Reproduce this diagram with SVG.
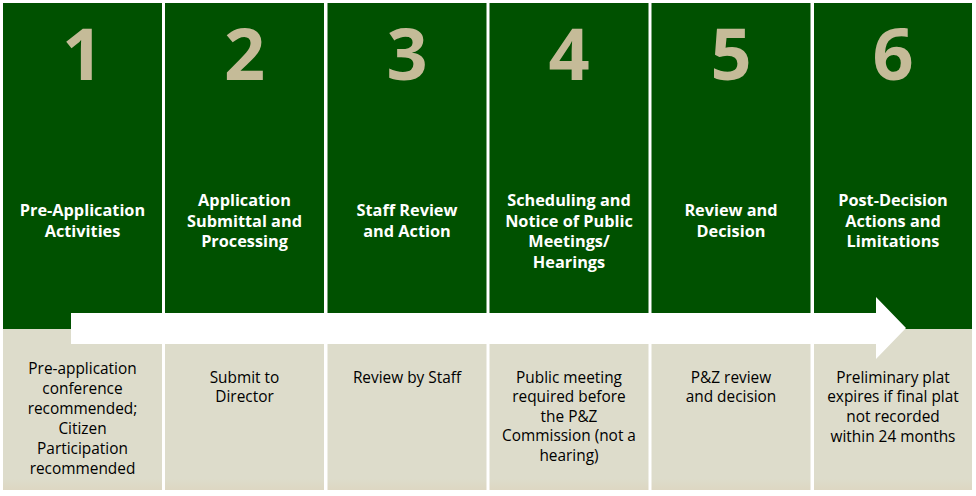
<svg xmlns="http://www.w3.org/2000/svg" width="976" height="496" viewBox="0 0 976 496">
<defs>
<linearGradient id="bg" x1="0" y1="0" x2="0" y2="1">
<stop offset="0" stop-color="#DDDCCB"/>
<stop offset="0.93" stop-color="#DDDCCB"/>
<stop offset="1" stop-color="#DDD7C2"/>
</linearGradient>
<style>
.top{fill:#005100}
.bot{fill:url(#bg)}
.num{font-family:"Open Sans","DejaVu Sans",sans-serif;font-size:72px;font-weight:700;fill:#C5BB98;text-anchor:middle}
.hd{font-family:"Open Sans","DejaVu Sans",sans-serif;font-size:16.3px;font-weight:700;fill:#FFFFFF;text-anchor:middle}
.bd{font-family:"Open Sans","DejaVu Sans",sans-serif;font-size:15.4px;fill:#000000;text-anchor:middle}
</style>
</defs>
<rect width="976" height="496" fill="#FFFFFF"/>
<g id="step1">
<rect class="top" x="3" y="3" width="159" height="326"/>
<rect class="bot" x="3" y="329" width="159" height="161"/>
<text class="num" x="82.5" y="80">1</text>
<text class="hd" x="82.5" y="216">Pre-Application</text>
<text class="hd" x="82.5" y="237">Activities</text>
<text class="bd" x="82.5" y="374">Pre-application</text>
<text class="bd" x="82.5" y="394">conference</text>
<text class="bd" x="82.5" y="414">recommended;</text>
<text class="bd" x="82.5" y="434">Citizen</text>
<text class="bd" x="82.5" y="454">Participation</text>
<text class="bd" x="82.5" y="474">recommended</text>
</g>
<g id="step2">
<rect class="top" x="165" y="3" width="159" height="326"/>
<rect class="bot" x="165" y="329" width="159" height="161"/>
<text class="num" x="244.5" y="80">2</text>
<text class="hd" x="244.5" y="206">Application</text>
<text class="hd" x="244.5" y="227">Submittal and</text>
<text class="hd" x="244.5" y="247">Processing</text>
<text class="bd" x="244.5" y="383">Submit to</text>
<text class="bd" x="244.5" y="402">Director</text>
</g>
<g id="step3">
<rect class="top" x="327.5" y="3" width="159" height="326"/>
<rect class="bot" x="327.5" y="329" width="159" height="161"/>
<text class="num" x="407" y="80">3</text>
<text class="hd" x="407" y="216">Staff Review</text>
<text class="hd" x="407" y="237">and Action</text>
<text class="bd" x="407" y="383">Review by Staff</text>
</g>
<g id="step4">
<rect class="top" x="489.5" y="3" width="159" height="326"/>
<rect class="bot" x="489.5" y="329" width="159" height="161"/>
<text class="num" x="569" y="80">4</text>
<text class="hd" x="569" y="206">Scheduling and</text>
<text class="hd" x="569" y="227">Notice of Public</text>
<text class="hd" x="569" y="247">Meetings/</text>
<text class="hd" x="569" y="268">Hearings</text>
<text class="bd" x="569" y="383">Public meeting</text>
<text class="bd" x="569" y="402">required before</text>
<text class="bd" x="569" y="422">the P&amp;Z</text>
<text class="bd" x="569" y="441">Commission (not a</text>
<text class="bd" x="569" y="461">hearing)</text>
</g>
<g id="step5">
<rect class="top" x="651.5" y="3" width="159" height="326"/>
<rect class="bot" x="651.5" y="329" width="159" height="161"/>
<text class="num" x="731" y="80">5</text>
<text class="hd" x="731" y="216">Review and</text>
<text class="hd" x="731" y="237">Decision</text>
<text class="bd" x="731" y="383">P&amp;Z review</text>
<text class="bd" x="731" y="402">and decision</text>
</g>
<g id="step6">
<rect class="top" x="814" y="3" width="158" height="326"/>
<rect class="bot" x="814" y="329" width="158" height="161"/>
<text class="num" x="893" y="80">6</text>
<text class="hd" x="893" y="206">Post-Decision</text>
<text class="hd" x="893" y="227">Actions and</text>
<text class="hd" x="893" y="247">Limitations</text>
<text class="bd" x="893" y="383">Preliminary plat</text>
<text class="bd" x="893" y="402">expires if final plat</text>
<text class="bd" x="893" y="422">not recorded</text>
<text class="bd" x="893" y="442">within 24 months</text>
</g>
<g id="connectors">
<polygon points="71,313 876,313 876,297 906,328 876,359 876,344 71,344" fill="#FFFFFF"/>
</g>
</svg>
